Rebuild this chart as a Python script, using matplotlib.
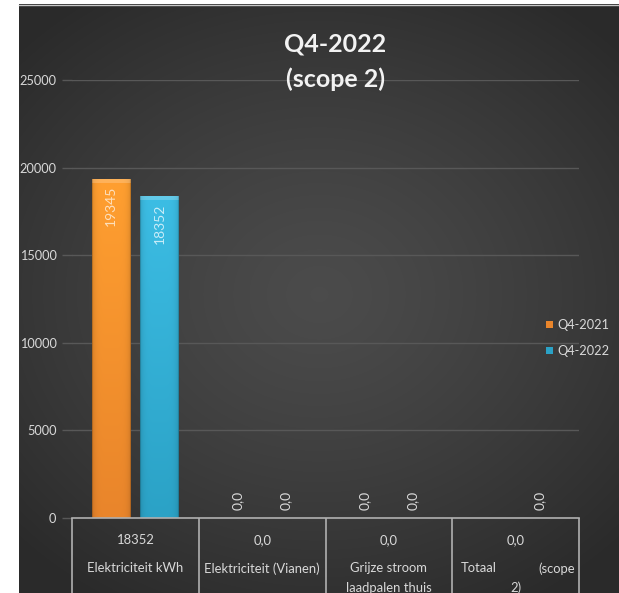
import numpy as np
import matplotlib
matplotlib.use("Agg")
import matplotlib.pyplot as plt
from matplotlib.lines import Line2D
from matplotlib import transforms

plt.rcParams['font.family'] = ['Lato', 'DejaVu Sans']

# data
categories = ["Elektriciteit kWh", "Elektriciteit (Vianen)", "Grijze stroom\nlaadpalen thuis", "Totaal"]
series_names = ["Q4-2021", "Q4-2022"]
q4_2021 = [19345, 0, 0, np.nan]
q4_2022 = [18352, 0, 0, 0]
labels_2021 = ["19345", "0,0", "0,0", ""]
labels_2022 = ["18352", "0,0", "0,0", "0,0"]
table_row = ["18352", "0,0", "0,0", "0,0"]
yticks = [0, 5000, 10000, 15000, 20000, 25000]

col_top = {"Q4-2021": "#ff9f30", "Q4-2022": "#3cbde4"}
col_bot = {"Q4-2021": "#e9852b", "Q4-2022": "#2ba2c6"}
lbl_col = {"Q4-2021": "#fde0bd", "Q4-2022": "#c8ecf8"}
txt = "#d9d9d9"
grid_c = "#585858"

W, H = 619, 593
fig = plt.figure(figsize=(W / 100, H / 100), dpi=100)
fig.patch.set_facecolor("white")

# achtergrond met radiaal verloop
bg = fig.add_axes([19 / W, 0, 1 - 19 / W, 1 - 4 / H])
bg.set_axis_off()
yy, xx = np.mgrid[0:589, 0:600]
d = np.sqrt(((xx - 300) / 420.0) ** 2 + ((yy - 290) / 360.0) ** 2)
d = np.clip(d, 0, 1)
v = 0.295 - 0.13 * d ** 1.3
bg.imshow(np.dstack([v, v, v]), aspect="auto", extent=(0, 1, 0, 1), interpolation="bilinear")
bg.set_xlim(0, 1)
bg.set_ylim(0, 1)
fig.add_artist(Line2D([19 / W, 1], [1 - 4.5 / H, 1 - 4.5 / H], color="#c8c8c8", lw=1))

ax = fig.add_axes([72 / W, 1 - 518 / H, (579 - 72) / W, (518 - 80) / H])
ax.patch.set_alpha(0)
for s in ax.spines.values():
    s.set_visible(False)

x = np.arange(len(categories))
width = 0.30
offs = [-0.19, 0.19]
bars_all = []
for name, vals, labs, off in zip(series_names, [q4_2021, q4_2022], [labels_2021, labels_2022], offs):
    bars = ax.bar(x + off, vals, width, color=col_bot[name], label=name, zorder=3, linewidth=0)
    bars_all.append((name, bars))
    for xi, val, lab in zip(x + off, vals, labs):
        if lab == "":
            continue
        if val > 0:
            ax.annotate(lab, (xi, val), xytext=(0, -5), textcoords="offset points", rotation=90,
                        ha="center", va="top", color=lbl_col[name], fontsize=10, zorder=5)
        else:
            ax.annotate(lab, (xi, val), xytext=(0, 6), textcoords="offset points", rotation=90,
                        ha="center", va="bottom", color=txt, fontsize=10, zorder=5)

ax.set_xlim(-0.5, 3.5)
ax.set_ylim(0, 25000)
ax.set_yticks(yticks)
ax.set_yticklabels([str(t) for t in yticks], color=txt, fontsize=9.2)
ax.tick_params(axis="y", length=7.2, width=1, color=grid_c, pad=4)
ax.set_xticks([])
ax.grid(axis="y", color=grid_c, lw=1, zorder=0)
ax.set_axisbelow(True)

# schaduw op de staven
for name, bars in bars_all:
    ct = np.array(matplotlib.colors.to_rgb(col_top[name]))
    cb = np.array(matplotlib.colors.to_rgb(col_bot[name]))
    for b in bars:
        h = b.get_height()
        if not h > 0:
            continue
        (px0, py0), (px1, py1) = ax.transData.transform([(b.get_x(), 0), (b.get_x() + b.get_width(), h)])
        wpx, hpx = int(round(px1 - px0)), int(round(py1 - py0))
        t = np.linspace(0, 1, hpx)[:, None, None]
        img = ct * (1 - t) + cb * t
        img = np.repeat(img, wpx, axis=1)
        u = np.abs(np.linspace(-1, 1, wpx))[None, :, None]
        img = img * (1 - 0.12 * u ** 6)
        img[:4] = img[:4] * 0.8 + 0.2
        img[:, :1] *= 0.85
        img[:, -1:] *= 0.85
        ax.imshow(np.clip(img, 0, 1), extent=(b.get_x(), b.get_x() + b.get_width(), 0, h),
                  aspect="auto", zorder=4, interpolation="bilinear")
ax.set_xlim(-0.5, 3.5)
ax.set_ylim(0, 25000)

# datatabel
tline = "#b0b0b0"
ax.axhline(0, color=tline, lw=1.2, zorder=6, clip_on=False)
blend = transforms.blended_transform_factory(ax.transData, ax.transAxes)
ax.vlines(np.arange(len(categories) + 1) - 0.5, -0.3, 0, transform=blend, color=tline, lw=1.2, clip_on=False)
row1, row2a, row2b = -16, -36.3, -50.3
fs = 9.4
for i, (cat, val) in enumerate(zip(categories, table_row)):
    ax.annotate(val, (i, 0), xytext=(0, row1), textcoords="offset points", ha="center", va="center",
                color=txt, fontsize=fs, annotation_clip=False)
    if cat == "Totaal":
        ax.annotate("Totaal", (i - 0.5, 0), xytext=(6, row2a), textcoords="offset points", ha="left",
                    va="center", color=txt, fontsize=fs, annotation_clip=False)
        ax.annotate("(scope", (i + 0.5, 0), xytext=(-3, row2a), textcoords="offset points", ha="right",
                    va="center", color=txt, fontsize=fs, annotation_clip=False)
        ax.annotate("2)", (i, 0), xytext=(0, row2b), textcoords="offset points", ha="center",
                    va="center", color=txt, fontsize=fs, annotation_clip=False)
    else:
        for k, part in enumerate(cat.split("\n")):
            ax.annotate(part, (i, 0), xytext=(0, [row2a, row2b][k]), textcoords="offset points",
                        ha="center", va="center", color=txt, fontsize=fs, annotation_clip=False)

# titel
fig.text(335 / W, 1 - 44 / H, "Q4-2022", ha="center", va="center", fontsize=18,
         fontweight="bold", color="#f2f2f2")
fig.text(335 / W, 1 - 79 / H, "(scope 2)", ha="center", va="center", fontsize=18,
         fontweight="bold", color="#f2f2f2")

# legenda
leg = ax.legend(loc="center left", bbox_to_anchor=(546 / W, 1 - 338 / H), bbox_transform=fig.transFigure,
                frameon=False, fontsize=9.2, handlelength=0.55, handleheight=0.55, handletextpad=0.35,
                labelspacing=1.1, labelcolor=txt, borderpad=0, borderaxespad=0)

fig.savefig("out.png", dpi=100, facecolor=fig.get_facecolor())
